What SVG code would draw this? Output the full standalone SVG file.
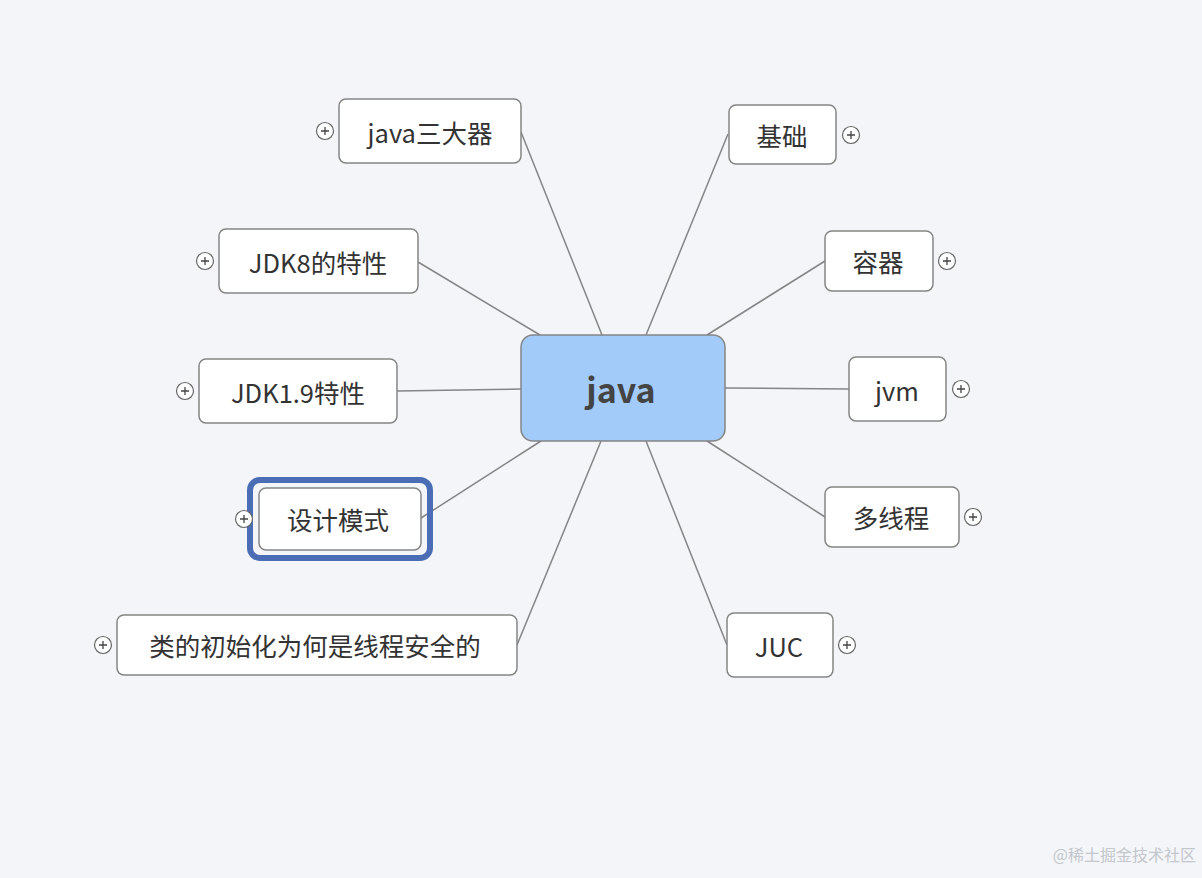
<svg xmlns="http://www.w3.org/2000/svg" width="1202" height="878" viewBox="0 0 1202 878">
<style>
.n{fill:#fff;stroke:#858585;stroke-width:1.5}
.t{font-family:"Noto Sans CJK SC","Noto Sans",sans-serif;font-size:25.5px;fill:#333;text-anchor:middle;dominant-baseline:central}
.c{stroke:#858585;stroke-width:1.5;fill:none}
.p circle{fill:#fff;stroke:#666;stroke-width:1.2}
.p path{stroke:#444;stroke-width:1.3}
</style>
<defs>
<g id="plus" class="p"><circle r="8.5"/><path d="M-4 0H4M0 -4V4"/></g>
</defs>
<rect width="1202" height="878" fill="#f3f5f9"/>
<g id="connectors">
<path class="c" d="M521 132L602 335M418 262L540 335M397 391L521 389M421 518L541 441M517 645L601 441M646 335L728 134M707 335L825 261M725 388L849 389M707 441L825 517M646 441L727 645"/>
</g>
<g id="center"><rect x="521" y="335" width="204" height="106" rx="12" fill="#a2cbf9" stroke="#858585" stroke-width="1.5"/><text x="621" y="388" class="t" style="font-size:34px;font-weight:bold;fill:#444">java</text></g>
<g id="n1"><rect class="n" x="339" y="99" width="182" height="64" rx="7"/><text class="t" x="430" y="131">java三大器</text><use href="#plus" x="325" y="131"/></g>
<g id="n2"><rect class="n" x="219" y="229" width="199" height="64" rx="7"/><text class="t" x="318" y="261">JDK8的特性</text><use href="#plus" x="205" y="261"/></g>
<g id="n3"><rect class="n" x="199" y="359" width="198" height="64" rx="7"/><text class="t" x="298" y="391">JDK1.9特性</text><use href="#plus" x="185" y="391"/></g>
<g id="n4"><rect x="250" y="480" width="180" height="78" rx="10" fill="none" stroke="#4a6db5" stroke-width="6"/><rect class="n" x="259" y="488" width="162" height="62" rx="7"/><text class="t" x="338" y="518">设计模式</text><use href="#plus" x="244" y="519"/></g>
<g id="n5"><rect class="n" x="117" y="615" width="400" height="60" rx="7"/><text class="t" x="315" y="644">类的初始化为何是线程安全的</text><use href="#plus" x="103" y="645"/></g>
<g id="n6"><rect class="n" x="729" y="105" width="107" height="59" rx="7"/><text class="t" x="782" y="134">基础</text><use href="#plus" x="851" y="135"/></g>
<g id="n7"><rect class="n" x="825" y="231" width="108" height="60" rx="7"/><text class="t" x="878" y="260">容器</text><use href="#plus" x="947" y="261"/></g>
<g id="n8"><rect class="n" x="849" y="357" width="97" height="64" rx="7"/><text class="t" x="897" y="389">jvm</text><use href="#plus" x="961" y="389"/></g>
<g id="n9"><rect class="n" x="825" y="487" width="134" height="60" rx="7"/><text class="t" x="891" y="516">多线程</text><use href="#plus" x="973" y="517"/></g>
<g id="n10"><rect class="n" x="727" y="613" width="106" height="64" rx="7"/><text class="t" x="779" y="645">JUC</text><use href="#plus" x="847" y="645"/></g>
<text x="1196" y="861" style="font-family:'Noto Sans CJK SC',sans-serif;font-size:16px;fill:#c4c7cc;text-anchor:end">@稀土掘金技术社区</text>
</svg>
